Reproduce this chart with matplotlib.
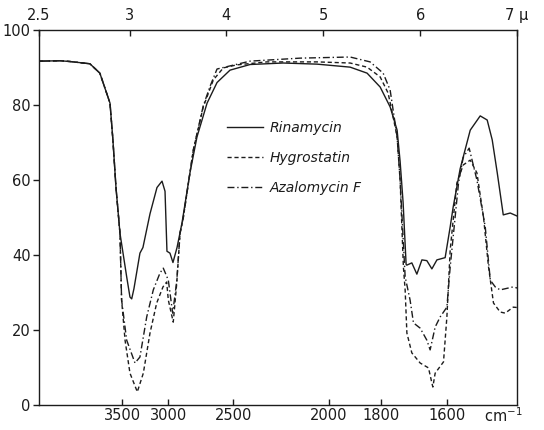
import numpy as np
import matplotlib
matplotlib.use('Agg')
import matplotlib.pyplot as plt

# wavelength (micron) and % transmittance
rina_um = [2.50, 2.616, 2.671, 2.781, 2.836, 2.892, 2.908, 2.925, 2.947, 2.984, 3.004,
           3.022, 3.045, 3.107, 3.138, 3.211, 3.283, 3.335, 3.366, 3.386, 3.417, 3.448,
           3.490, 3.541, 3.624, 3.696, 3.800, 3.903, 4.037, 4.244, 4.585, 4.936, 5.277,
           5.452, 5.587, 5.690, 5.762, 5.793, 5.824, 5.855, 5.862, 5.914, 5.966, 6.018,
           6.069, 6.121, 6.173, 6.258, 6.310, 6.341, 6.413, 6.517, 6.620, 6.692, 6.744,
           6.796, 6.858, 6.930, 7.00]
rina_t = [91.7, 91.8, 91.6, 91.0, 88.5, 80.5, 70.7, 58.0, 45.8, 34.2, 28.8,
          28.3, 31.0, 40.5, 42.0, 51.0, 58.0, 59.7, 57.0, 41.0, 40.5, 38.0,
          42.0, 48.5, 62.0, 71.5, 80.5, 86.0, 89.3, 90.8, 91.2, 90.9, 90.1,
          88.5, 84.8, 79.5, 73.3, 65.0, 54.0, 37.5, 37.3, 37.9, 34.9, 38.7,
          38.5, 36.3, 38.7, 39.3, 47.5, 52.8, 63.0, 73.3, 77.1, 76.0, 70.7,
          61.9, 50.7, 51.2, 50.4]

hygro_um = [2.50, 2.616, 2.671, 2.781, 2.836, 2.892, 2.908, 2.925, 2.947, 2.956, 2.975,
            3.004, 3.080, 3.142, 3.211, 3.280, 3.345, 3.383, 3.400, 3.451, 3.487, 3.521,
            3.555, 3.658, 3.761, 3.865, 3.968, 4.106, 4.419, 4.936, 5.277, 5.452, 5.587,
            5.669, 5.721, 5.762, 5.793, 5.827, 5.845, 5.863, 5.914, 6.000, 6.086, 6.121,
            6.131, 6.155, 6.241, 6.276, 6.310, 6.379, 6.444, 6.517, 6.586, 6.654, 6.706,
            6.757, 6.826, 6.878, 6.961, 7.00]
hygro_t = [91.7, 91.8, 91.6, 91.0, 88.5, 80.5, 70.7, 58.0, 45.8, 28.0, 17.3,
           8.5, 3.5, 8.5, 19.2, 27.2, 31.5, 32.8, 28.0, 22.1, 32.5, 45.8,
           50.0, 68.0, 79.5, 86.7, 89.9, 90.7, 91.5, 91.5, 91.2, 90.1, 87.5,
           83.2, 76.8, 71.5, 60.0, 36.8, 30.7, 19.2, 13.9, 11.2, 9.9, 5.9,
           4.8, 8.5, 11.5, 23.5, 41.3, 59.2, 64.0, 65.3, 61.9, 50.1, 36.8,
           27.2, 24.8, 24.5, 26.1, 26.0]

azalo_um = [2.50, 2.616, 2.671, 2.781, 2.836, 2.892, 2.908, 2.925, 2.947, 2.956, 2.984,
            3.056, 3.107, 3.177, 3.245, 3.314, 3.348, 3.400, 3.445, 3.487, 3.521, 3.555,
            3.658, 3.761, 3.831, 3.903, 4.244, 4.760, 5.277, 5.483, 5.618, 5.690, 5.741,
            5.762, 5.793, 5.845, 5.896, 5.931, 6.000, 6.069, 6.103, 6.155, 6.207, 6.276,
            6.310, 6.396, 6.444, 6.506, 6.586, 6.672, 6.724, 6.775, 6.826, 6.961, 7.00]
azalo_t = [91.7, 91.8, 91.6, 91.0, 88.5, 80.5, 70.7, 58.0, 45.8, 28.0, 17.3,
           11.2, 12.8, 23.5, 30.7, 35.2, 36.5, 33.3, 24.5, 33.0, 45.8, 50.0,
           68.0, 79.8, 85.0, 89.6, 91.7, 92.5, 92.8, 91.5, 88.5, 84.0, 75.2,
           71.5, 60.0, 34.2, 28.0, 21.9, 20.5, 17.3, 14.7, 20.8, 23.5, 26.1,
           36.8, 59.2, 66.0, 68.5, 60.0, 47.5, 33.3, 31.5, 30.7, 31.5, 31.2]

# axis labels
um_ticks = [2.5, 3, 4, 5, 6, 7]
um_labels = ['2.5', '3', '4', '5', '6', '7 μ']
cm_labels = ['3500', '3000', '2500', '2000', '1800', '1600']
cm_tick_um = [2.96, 3.40, 4.07, 5.06, 5.60, 6.28]  # where the printed cm-1 ticks sit
y_ticks = [0, 20, 40, 60, 80, 100]

# the chart paper has an expanded 2.5-3 micron section
STRETCH = 1.87


def fwd(x):
    x = np.asarray(x, dtype=float)
    return np.where(x < 3, 3 - (3 - x) * STRETCH, x)


def inv(y):
    y = np.asarray(y, dtype=float)
    return np.where(y < 3, 3 - (3 - y) / STRETCH, y)


ink = '#1c1c1c'
plt.rcParams['font.family'] = 'DejaVu Sans'

fig = plt.figure(figsize=(5.44, 4.30), dpi=100)
ax = fig.add_axes([0.0717, 0.0581, 0.8787, 0.8721])
ax.set_xscale('function', functions=(fwd, inv))

ax.plot(rina_um, rina_t, color=ink, lw=1.0, label='Rinamycin')
ax.plot(hygro_um, hygro_t, color=ink, lw=1.0, dashes=(3, 2), label='Hygrostatin')
ax.plot(azalo_um, azalo_t, color=ink, lw=1.0, dashes=(5, 2, 1, 2), label='Azalomycin F')

ax.set_xlim(2.5, 7)
ax.set_ylim(0, 100)

ax.set_xticks(cm_tick_um)
ax.set_xticklabels(cm_labels)
ax.set_yticks(y_ticks)
ax.tick_params(axis='x', direction='in', length=4, width=1, pad=2,
               labelsize=10.5, colors=ink)
ax.tick_params(axis='y', direction='out', length=4, width=1, pad=2,
               labelsize=10.5, colors=ink)
ax.xaxis.set_minor_locator(matplotlib.ticker.NullLocator())
for s in ax.spines.values():
    s.set_color(ink)
    s.set_linewidth(1.0)

ax2 = ax.twiny()
ax2.set_xscale('function', functions=(fwd, inv))
ax2.set_xlim(2.5, 7)
ax2.set_xticks(um_ticks)
ax2.set_xticklabels(um_labels)
ax2.xaxis.set_minor_locator(matplotlib.ticker.NullLocator())
ax2.tick_params(axis='x', direction='in', length=4, width=1, pad=5,
                labelsize=10.5, colors=ink)
for s in ax2.spines.values():
    s.set_visible(False)

ax.text(0.972, -0.045, 'cm$^{-1}$', transform=ax.transAxes, ha='center',
        va='baseline', fontsize=10.5, color=ink)

leg = ax.legend(loc='upper left', bbox_to_anchor=(0.367, 0.79), frameon=False,
                handlelength=2.6, handletextpad=0.5, labelspacing=1.15,
                prop={'style': 'italic', 'size': 10})
for t in leg.get_texts():
    t.set_color(ink)

fig.savefig('out.png', dpi=100)
